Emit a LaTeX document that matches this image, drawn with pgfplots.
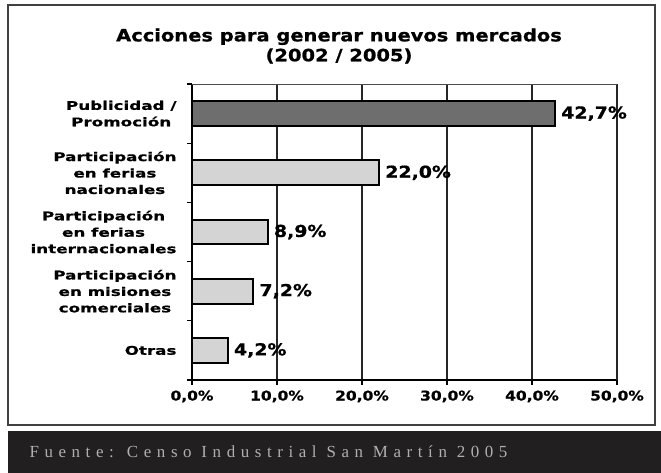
\documentclass[border=0pt]{standalone}
\usepackage{fontspec}
\usepackage{pgfplots}
\pgfplotsset{compat=1.18}
\newfontfamily\heavy[FakeStretch=1.15, BoldFeatures={FakeBold=0.8}]{DejaVu Sans}
\newfontfamily\catfont[FakeStretch=1.4, BoldFeatures={FakeBold=0.8}]{DejaVu Sans}
\newfontfamily\footfont[LetterSpace=33]{Liberation Serif}
\definecolor{barDark}{HTML}{6E6E6E}
\definecolor{barLight}{HTML}{D4D4D4}
\definecolor{band}{HTML}{221F20}
\definecolor{foot}{HTML}{B0B0B0}

\begin{document}
\begin{tikzpicture}
\useasboundingbox[fill=white] (0bp,0bp) rectangle (661bp,473bp);
% outer frame and source band
\draw[black!75, line width=1.8bp] (8bp,48bp) rectangle (655bp,468bp);
\fill[band] (8bp,0bp) rectangle (661bp,42bp);
\node[anchor=west, text=foot, font=\footfont\fontsize{17}{19}\selectfont] at (26bp,21bp)
  {Fuente: Censo Industrial San Martín 2005};
% title
\node[align=center, font=\heavy\bfseries\fontsize{17}{20}\selectfont] at (339bp,427bp)
  {Acciones para generar nuevos mercados\\(2002 / 2005)};

\begin{axis}[
    at={(192bp,93bp)}, anchor=south west,
    scale only axis, width=425bp, height=296bp,
    xbar, bar width=0.42, bar shift=0pt,
    xmin=0, xmax=50, ymin=-0.5, ymax=4.5,
    axis x line*=bottom, axis y line*=left,
    axis line style={-, black, line width=1.6bp},
    tick align=outside,
    /pgf/number format/assume math mode=true,
    xtick={0,10,20,30,40}, extra x ticks={50},
    extra x tick style={grid style={black!55, line width=0.7bp}},
    xmajorgrids, major grid style={black!85, line width=1.4bp},
    xticklabel={\pgfmathprintnumber[fixed,fixed zerofill,precision=1,use comma]{\tick}\%},
    xticklabel style={font=\heavy\bfseries\fontsize{13.5}{15}\selectfont, yshift=-2bp},
    major tick length=5bp,
    every tick/.style={black, line width=1.4bp},
    ytick={0,1,2,3,4},
    yticklabels={Otras, {Participación\\en misiones\\comerciales},
      {Participación\\en ferias\\internacionales},
      {Participación\\en ferias\\nacionales}, {Publicidad /\\Promoción}},
    yticklabel style={align=center, font=\catfont\bfseries\fontsize{12}{16.5}\selectfont, xshift=-7bp},
    minor ytick={-0.5,0.5,1.5,2.5,3.5,4.5},
    minor tick length=5bp,
    major y tick style={draw=none},
    nodes near coords={\pgfmathprintnumber[fixed,fixed zerofill,precision=1,use comma]{\pgfplotspointmeta}\%},
    point meta=x,
    every node near coord/.append style={font=\heavy\bfseries\fontsize{16.5}{18}\selectfont, xshift=2bp},
    clip=false,
]
\draw[black!70, line width=0.8bp] (rel axis cs:0,1) -- (rel axis cs:1,1);
\addplot[draw=black, line width=2bp, fill=barLight] coordinates {
    (22.0,3) (8.9,2) (7.2,1) (4.2,0)
};
\addplot[draw=black, line width=2bp, fill=barDark] coordinates {
    (42.7,4)
};
\end{axis}
\end{tikzpicture}
\end{document}
